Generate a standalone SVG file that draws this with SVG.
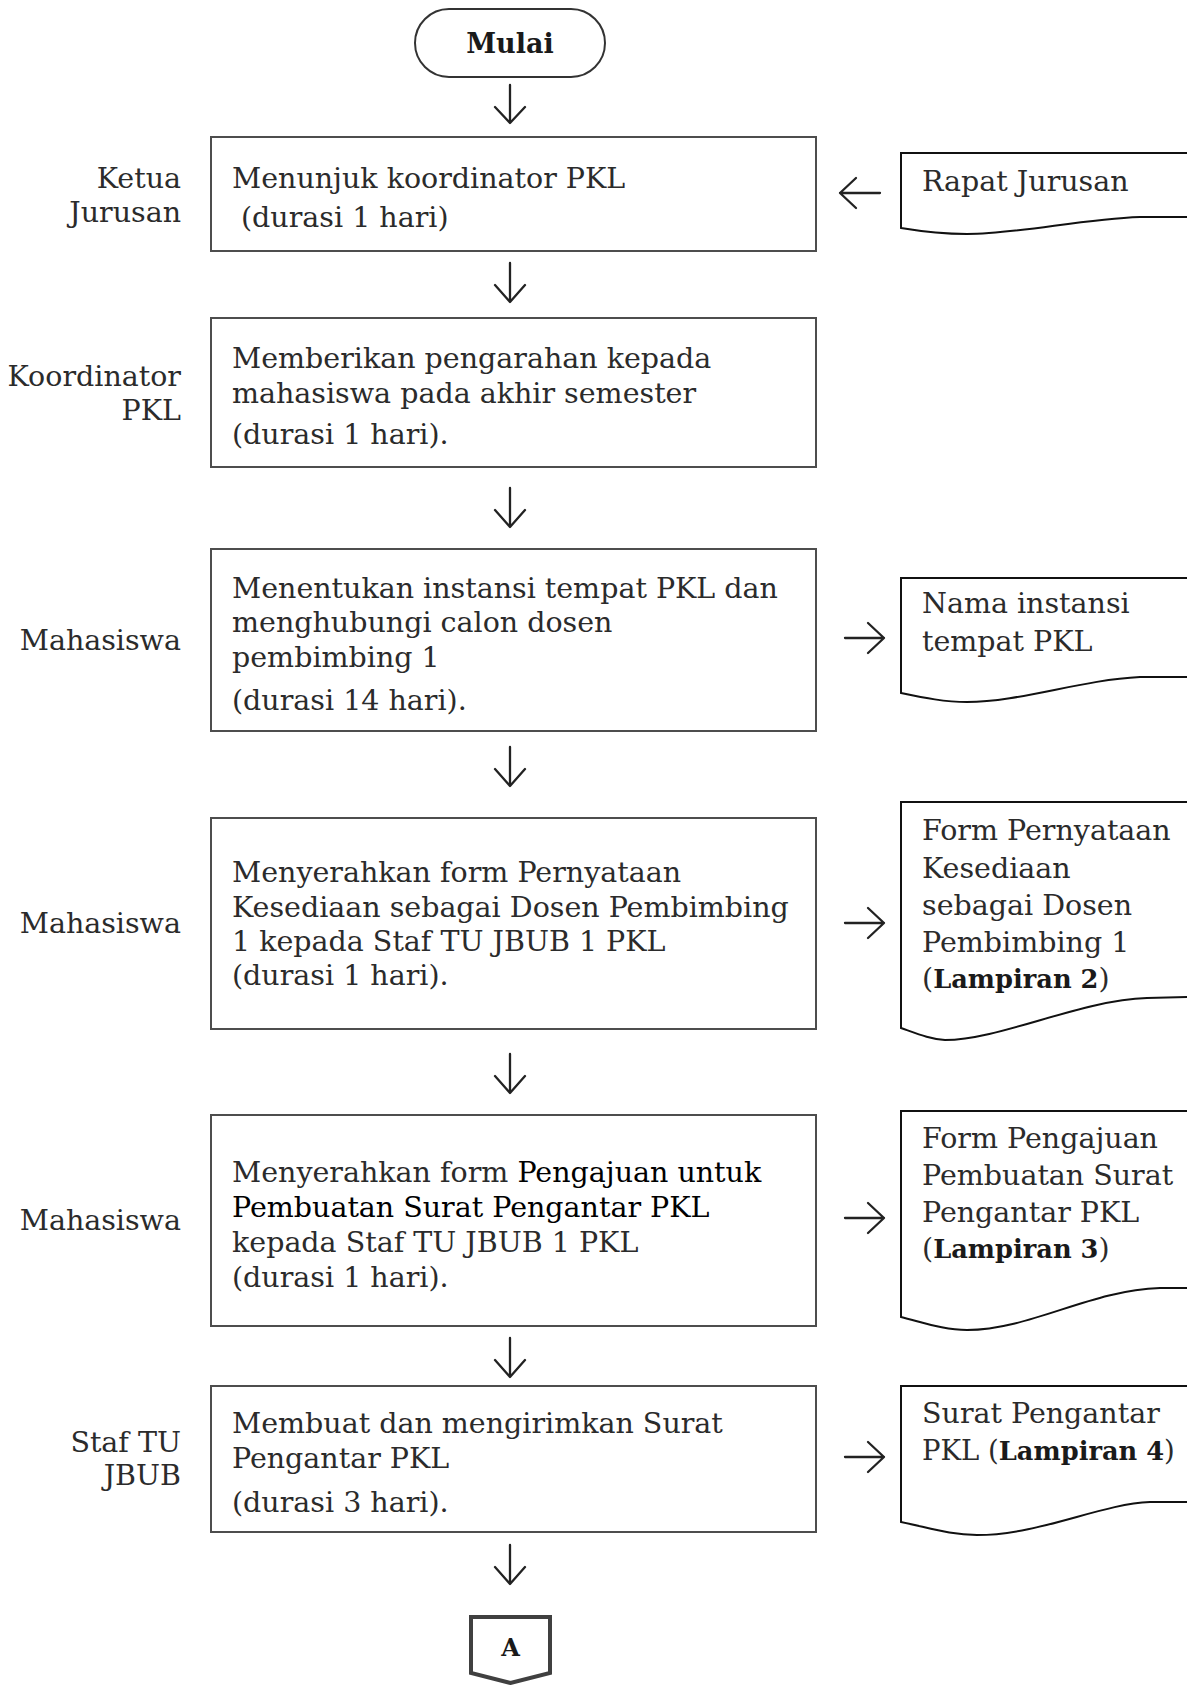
<svg xmlns="http://www.w3.org/2000/svg" width="1187" height="1685" viewBox="0 0 1187 1685">
<style>
text{font-family:"DejaVu Serif","Liberation Serif",serif;font-size:28.5px;fill:#2b2b2b}
.lbl{text-anchor:end}
.b{font-weight:bold;fill:#1a1a1a}
.lb{font-weight:bold;fill:#1a1a1a;font-size:25.7px}
.blk{fill:#000}
.box{fill:#fff;stroke:#4d4d4d;stroke-width:2}
.doc{fill:#fff;stroke:#111;stroke-width:2}
.arr{fill:none;stroke:#222;stroke-width:2.3;stroke-linecap:round;stroke-linejoin:round}
</style>
<rect width="1187" height="1685" fill="#fff"/>

<g id="connectors">
<path class="arr" d="M510,85 V123 M495,107 L510,123 L525,107"/>
<path class="arr" d="M510,263 V302 M495,285 L510,302 L525,285"/>
<path class="arr" d="M510,488 V527 M495,510 L510,527 L525,510"/>
<path class="arr" d="M510,747 V786 M495,769 L510,786 L525,769"/>
<path class="arr" d="M510,1054 V1093 M495,1076 L510,1093 L525,1076"/>
<path class="arr" d="M510,1338 V1377 M495,1360 L510,1377 L525,1360"/>
<path class="arr" d="M510,1545 V1584 M495,1567 L510,1584 L525,1567"/>
<path class="arr" d="M880,193 H840 M856,178 L840,193 L856,208"/>
<path class="arr" d="M845,638 H884 M868,623 L884,638 L868,653"/>
<path class="arr" d="M845,923 H884 M868,908 L884,923 L868,938"/>
<path class="arr" d="M845,1218 H884 M868,1203 L884,1218 L868,1233"/>
<path class="arr" d="M845,1457 H884 M868,1442 L884,1457 L868,1472"/>
</g>

<g id="start">
<rect x="415" y="9" width="190" height="68" rx="34" fill="#fff" stroke="#333" stroke-width="2"/>
<text x="510" y="53" text-anchor="middle" class="b" style="font-size:27px">Mulai</text>
</g>

<g id="step1">
<text class="lbl" x="181" y="188">Ketua</text>
<text class="lbl" x="181" y="222">Jurusan</text>
<rect class="box" x="211" y="137" width="605" height="114"/>
<text x="232" y="188">Menunjuk koordinator PKL</text>
<text x="241" y="227">(durasi 1 hari)</text>
</g>

<g id="doc-rapat">
<path class="doc" d="M1190,153 H901 V228 C925,232 945,234 967,234 C1020,234 1080,219 1140,217 L1190,217"/>
<text x="922" y="191">Rapat Jurusan</text>
</g>

<g id="step2">
<text class="lbl" x="181" y="386">Koordinator</text>
<text class="lbl" x="181" y="420">PKL</text>
<rect class="box" x="211" y="318" width="605" height="149"/>
<text x="232" y="368">Memberikan pengarahan kepada</text>
<text x="232" y="403">mahasiswa pada akhir semester</text>
<text x="232" y="444">(durasi 1 hari).</text>
</g>

<g id="step3">
<text class="lbl" x="181" y="650">Mahasiswa</text>
<rect class="box" x="211" y="549" width="605" height="182"/>
<text x="232" y="598">Menentukan instansi tempat PKL dan</text>
<text x="232" y="632">menghubungi calon dosen</text>
<text x="232" y="667">pembimbing 1</text>
<text x="232" y="710">(durasi 14 hari).</text>
</g>

<g id="doc-instansi">
<path class="doc" d="M1190,578 H901 V693 C925,698 945,702 967,702 C1020,702 1080,680 1140,677 L1190,677"/>
<text x="922" y="613">Nama instansi</text>
<text x="922" y="651">tempat PKL</text>
</g>

<g id="step4">
<text class="lbl" x="181" y="933">Mahasiswa</text>
<rect class="box" x="211" y="818" width="605" height="211"/>
<text x="232" y="882">Menyerahkan form Pernyataan</text>
<text x="232" y="917">Kesediaan sebagai Dosen Pembimbing</text>
<text x="232" y="951">1 kepada Staf TU JBUB 1 PKL</text>
<text x="232" y="985">(durasi 1 hari).</text>
</g>

<g id="doc-pernyataan">
<path class="doc" d="M1190,802 H901 V1028 C918,1034 930,1039 945,1040 C1000,1040 1080,1000 1147,998 L1190,997"/>
<text x="922" y="840">Form Pernyataan</text>
<text x="922" y="878">Kesediaan</text>
<text x="922" y="915">sebagai Dosen</text>
<text x="922" y="952">Pembimbing 1</text>
<text x="922" y="988">(<tspan class="lb">Lampiran 2</tspan>)</text>
</g>

<g id="step5">
<text class="lbl" x="181" y="1230">Mahasiswa</text>
<rect class="box" x="211" y="1115" width="605" height="211"/>
<text x="232" y="1182">Menyerahkan form <tspan class="blk">Pengajuan untuk</tspan></text>
<text x="232" y="1217" class="blk">Pembuatan Surat Pengantar PKL</text>
<text x="232" y="1252">kepada Staf TU JBUB 1 PKL</text>
<text x="232" y="1287">(durasi 1 hari).</text>
</g>

<g id="doc-pengajuan">
<path class="doc" d="M1190,1111 H901 V1317 C925,1323 945,1330 967,1330 C1030,1330 1090,1290 1160,1288 L1190,1288"/>
<text x="922" y="1148">Form Pengajuan</text>
<text x="922" y="1185">Pembuatan Surat</text>
<text x="922" y="1222">Pengantar PKL</text>
<text x="922" y="1258">(<tspan class="lb">Lampiran 3</tspan>)</text>
</g>

<g id="step6">
<text class="lbl" x="181" y="1452">Staf TU</text>
<text class="lbl" x="181" y="1485">JBUB</text>
<rect class="box" x="211" y="1386" width="605" height="146"/>
<text x="232" y="1433">Membuat dan mengirimkan Surat</text>
<text x="232" y="1468">Pengantar PKL</text>
<text x="232" y="1512">(durasi 3 hari).</text>
</g>

<g id="doc-surat">
<path class="doc" d="M1190,1386 H901 V1522 C930,1528 950,1535 977,1535 C1040,1535 1100,1504 1150,1502 L1190,1502"/>
<text x="922" y="1423">Surat Pengantar</text>
<text x="922" y="1460" style="font-size:27.5px">PKL (<tspan class="lb">Lampiran 4</tspan>)</text>
</g>

<g id="connector-A">
<path d="M471,1617 H550 V1673 L510.5,1683 L471,1673 Z" fill="#fff" stroke="#404040" stroke-width="4" stroke-linejoin="miter"/>
<text x="510.5" y="1656" text-anchor="middle" class="b" style="font-size:24px">A</text>
</g>
</svg>
